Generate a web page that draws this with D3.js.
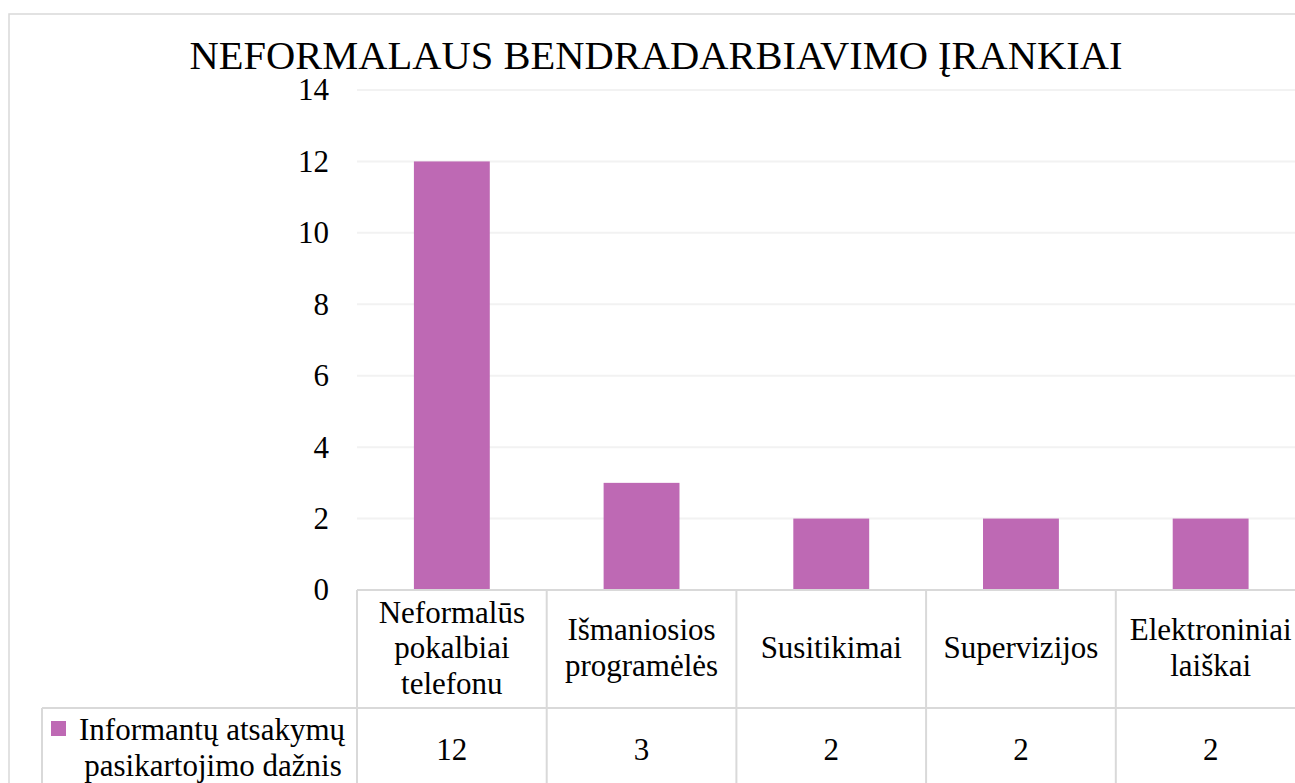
<!DOCTYPE html>
<html>
<head>
<meta charset="utf-8">
<script src="https://cdn.jsdelivr.net/npm/d3@7"></script>
<style>
  html, body { margin: 0; padding: 0; background: #fff; }
  svg { display: block; font-family: "Liberation Serif", "Times New Roman", serif; }
</style>
</head>
<body>
<svg id="chart" width="1295" height="783"></svg>
<script>
const title = "NEFORMALAUS BENDRADARBIAVIMO ĮRANKIAI";
const categories = ["Neformalūs pokalbiai telefonu", "Išmaniosios programėlės", "Susitikimai", "Supervizijos", "Elektroniniai laiškai"];
const categoryLines = [["Neformalūs", "pokalbiai", "telefonu"], ["Išmaniosios", "programėlės"], ["Susitikimai"], ["Supervizijos"], ["Elektroniniai", "laiškai"]];
const values = [12, 3, 2, 2, 2];
const seriesName = ["Informantų atsakymų", "pasikartojimo dažnis"];
const yTicks = [0, 2, 4, 6, 8, 10, 12, 14];

const svg = d3.select("#chart");
const barColor = "#BE69B4";
const lineColor = "#D9D9D9";
const gridColor = "#F2F2F2";
const fontSize = 31;

// outer chart frame
svg.append("rect").attr("x", 9).attr("y", 14).attr("width", 1400).attr("height", 900)
  .attr("fill", "none").attr("stroke", lineColor).attr("stroke-width", 1.5);

const x = d3.scaleBand().domain(categories).range([357, 1305.5]).paddingInner(0.6).paddingOuter(0.3);
const xCol = d3.scaleBand().domain(categories).range([357, 1305.5]).padding(0);
const y = d3.scaleLinear().domain([0, 14]).range([590, 90]);

// gridlines
svg.append("g").selectAll("line").data(yTicks.filter(d => d > 0)).join("line")
  .attr("x1", 357).attr("x2", 1295)
  .attr("y1", d => y(d)).attr("y2", d => y(d))
  .attr("stroke", gridColor).attr("stroke-width", 2);

// y axis labels via d3 axis
const yAxis = d3.axisLeft(y).tickValues(yTicks).tickSize(0).tickPadding(0).tickFormat(d3.format("d"));
const yg = svg.append("g").attr("transform", "translate(329,0)").call(yAxis);
yg.attr("font-family", null).attr("font-size", null);
yg.select(".domain").remove();
yg.selectAll("text").attr("font-size", fontSize).attr("fill", "#000")
  .attr("font-family", "Liberation Serif, Times New Roman, serif");

// bars
svg.append("g").selectAll("rect").data(values).join("rect")
  .attr("x", (d, i) => x(categories[i]))
  .attr("width", x.bandwidth())
  .attr("y", d => y(d))
  .attr("height", d => y(0) - y(d))
  .attr("fill", barColor);

// title
svg.append("text").attr("x", 656).attr("y", 69).attr("text-anchor", "middle")
  .attr("font-size", 40.5).attr("fill", "#000").text(title);

// data table
const tableTop = y(0), rowSplit = 708, tableBottom = 800;
const tbl = svg.append("g");
// horizontal lines
tbl.append("line").attr("x1", 357).attr("x2", 1295).attr("y1", tableTop).attr("y2", tableTop)
  .attr("stroke", lineColor).attr("stroke-width", 2);
tbl.append("line").attr("x1", 42).attr("x2", 1295).attr("y1", rowSplit).attr("y2", rowSplit)
  .attr("stroke", lineColor).attr("stroke-width", 2);
// vertical lines
const colEdges = categories.map(c => xCol(c)).concat([xCol(categories[categories.length - 1]) + xCol.bandwidth()]);
tbl.selectAll("line.v").data(colEdges).join("line").attr("class", "v")
  .attr("x1", d => d).attr("x2", d => d).attr("y1", tableTop).attr("y2", tableBottom)
  .attr("stroke", lineColor).attr("stroke-width", 2);
tbl.append("line").attr("x1", 42).attr("x2", 42).attr("y1", rowSplit).attr("y2", tableBottom)
  .attr("stroke", lineColor).attr("stroke-width", 2);

// header category labels
const lineH = 35.5;
categories.forEach((c, i) => {
  const lines = categoryLines[i];
  const cx = xCol(c) + xCol.bandwidth() / 2;
  const mid = (tableTop + rowSplit) / 2;
  const first = mid - (lines.length - 1) * lineH / 2 + 9;
  const t = tbl.append("text").attr("text-anchor", "middle").attr("font-size", fontSize).attr("fill", "#000");
  lines.forEach((l, j) => t.append("tspan").attr("x", cx).attr("y", first + j * lineH).text(l));
});

// data row values
tbl.selectAll("text.val").data(values).join("text").attr("class", "val")
  .attr("x", (d, i) => xCol(categories[i]) + xCol.bandwidth() / 2)
  .attr("y", 760)
  .attr("text-anchor", "middle").attr("font-size", fontSize).attr("fill", "#000")
  .text(d => d);

// legend cell
tbl.append("rect").attr("x", 51).attr("y", 721).attr("width", 15).attr("height", 15).attr("fill", barColor);
const lt = tbl.append("text").attr("text-anchor", "middle").attr("font-size", fontSize).attr("fill", "#000");
lt.append("tspan").attr("x", 212).attr("y", 740).text(seriesName[0]);
lt.append("tspan").attr("x", 213).attr("y", 776).text(seriesName[1]);
</script>
</body>
</html>
